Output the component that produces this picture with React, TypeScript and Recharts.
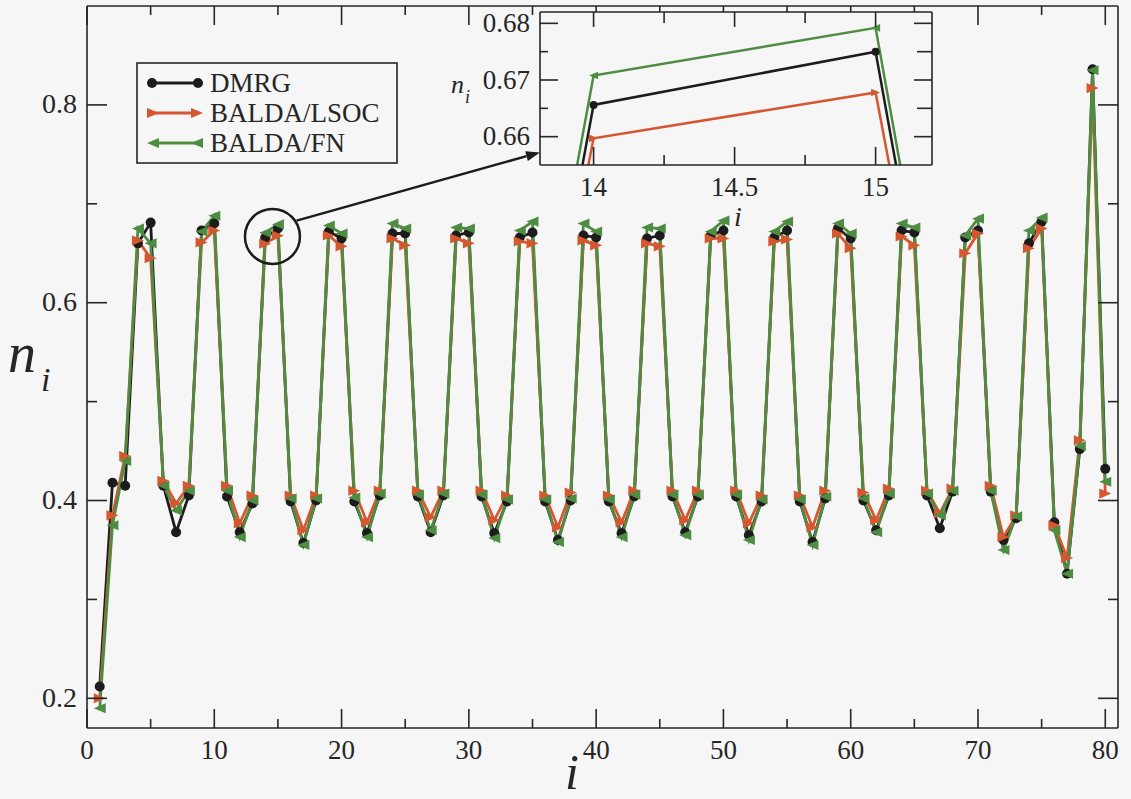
import React from "react";
import {
  LineChart,
  Line,
  XAxis,
  YAxis,
  ReferenceDot,
  ReferenceLine,
  CartesianGrid,
} from "recharts";

// lattice sites
const SITES = [
  1, 2, 3, 4, 5, 6, 7, 8, 9, 10, 11, 12, 13, 14, 15, 16, 17, 18, 19, 20,
  21, 22, 23, 24, 25, 26, 27, 28, 29, 30, 31, 32, 33, 34, 35, 36, 37, 38, 39, 40,
  41, 42, 43, 44, 45, 46, 47, 48, 49, 50, 51, 52, 53, 54, 55, 56, 57, 58, 59, 60,
  61, 62, 63, 64, 65, 66, 67, 68, 69, 70, 71, 72, 73, 74, 75, 76, 77, 78, 79, 80,
];

// site occupations n_i
const DMRG = [
  0.212, 0.418, 0.415, 0.66, 0.681, 0.415, 0.368, 0.405, 0.673, 0.68,
  0.404, 0.368, 0.397, 0.6656, 0.675, 0.399, 0.357, 0.4, 0.672, 0.665,
  0.399, 0.367, 0.405, 0.67, 0.67, 0.404, 0.368, 0.405, 0.668, 0.671,
  0.404, 0.367, 0.399, 0.666, 0.671, 0.399, 0.36, 0.4, 0.668, 0.666,
  0.399, 0.367, 0.404, 0.665, 0.668, 0.404, 0.368, 0.404, 0.668, 0.673,
  0.404, 0.365, 0.399, 0.666, 0.673, 0.399, 0.358, 0.402, 0.675, 0.665,
  0.4, 0.37, 0.405, 0.673, 0.671, 0.405, 0.372, 0.409, 0.666, 0.673,
  0.409, 0.36, 0.382, 0.66, 0.682, 0.378, 0.326, 0.452, 0.836, 0.432,
];

const LSOC = [
  0.2, 0.385, 0.445, 0.663, 0.645, 0.42, 0.397, 0.415, 0.661, 0.673,
  0.415, 0.377, 0.405, 0.6597, 0.6678, 0.405, 0.37, 0.405, 0.668, 0.657,
  0.41, 0.378, 0.41, 0.665, 0.658, 0.41, 0.383, 0.41, 0.665, 0.66,
  0.41, 0.38, 0.405, 0.662, 0.66, 0.405, 0.373, 0.408, 0.663, 0.658,
  0.405, 0.378, 0.41, 0.66, 0.657, 0.41, 0.38, 0.41, 0.665, 0.665,
  0.41, 0.377, 0.405, 0.662, 0.664, 0.405, 0.373, 0.41, 0.67, 0.655,
  0.408, 0.38, 0.412, 0.667, 0.658, 0.41, 0.387, 0.412, 0.65, 0.67,
  0.415, 0.363, 0.385, 0.655, 0.675, 0.375, 0.342, 0.461, 0.817, 0.407,
];

const FN = [
  0.19, 0.375, 0.44, 0.675, 0.66, 0.415, 0.39, 0.41, 0.672, 0.688,
  0.41, 0.363, 0.4, 0.6708, 0.6792, 0.402, 0.355, 0.402, 0.678, 0.67,
  0.403, 0.363, 0.407, 0.68, 0.675, 0.406, 0.37, 0.407, 0.676, 0.675,
  0.406, 0.362, 0.401, 0.673, 0.682, 0.401, 0.358, 0.402, 0.68, 0.672,
  0.401, 0.363, 0.406, 0.676, 0.675, 0.406, 0.365, 0.406, 0.672, 0.683,
  0.406, 0.36, 0.401, 0.672, 0.682, 0.401, 0.355, 0.404, 0.68, 0.67,
  0.402, 0.368, 0.407, 0.68, 0.676, 0.407, 0.385, 0.41, 0.668, 0.685,
  0.41, 0.35, 0.384, 0.673, 0.686, 0.37, 0.326, 0.455, 0.835, 0.419,
];

const SERIES_NAMES = ["DMRG", "BALDA/LSOC", "BALDA/FN"];

const X_TICKS = [0, 5, 10, 15, 20, 25, 30, 35, 40, 45, 50, 55, 60, 65, 70, 75, 80];
const X_LABELS = ["0", "10", "20", "30", "40", "50", "60", "70", "80"];
const Y_TICKS = [0.2, 0.3, 0.4, 0.5, 0.6, 0.7, 0.8];
const Y_LABELS = ["0.2", "0.4", "0.6", "0.8"];

// zoomed window around sites 14-15
const INSET_SITES = [13, 14, 15, 16];
const INSET_X_TICKS = [14, 14.25, 14.5, 14.75, 15];
const INSET_X_LABELS = ["14", "14.5", "15"];
const INSET_Y_TICKS = [0.66, 0.665, 0.67, 0.675, 0.68];
const INSET_Y_LABELS = ["0.66", "0.67", "0.68"];

// magnifier circle and pointer arrow (data coords)
const ZOOM_CENTER = { x: 14.57, y: 0.667 };
const ARROW_FROM = { x: 16.47, y: 0.683 };
const ARROW_TO = { x: 35.59, y: 0.752 };

const BLACK = "#1c1c1c";
const RED = "#d5572f";
const GREEN = "#4e8c42";
const INK = "#262626";
const BG = "#f6f6f7";
const FONT = '"Liberation Serif", "Times New Roman", serif';

const rows = SITES.map((s, k) => ({ i: s, dmrg: DMRG[k], lsoc: LSOC[k], fn: FN[k] }));
const insetRows = INSET_SITES.map((s) => {
  const k = SITES.indexOf(s);
  return { i: s, dmrg: DMRG[k], lsoc: LSOC[k], fn: FN[k] };
});

type Side = "bottom" | "top" | "left" | "right";

// inward ticks, long+labelled for major values, short for minor ones
const makeTick =
  (side: Side, labels: string[], major: number, minor: number, fontSize: number, showText: boolean) =>
  (props: any) => {
    const { x, y, payload } = props;
    const v = payload.value as number;
    const label = labels.find((l) => Math.abs(parseFloat(l) - v) < 1e-9);
    const len = label ? major : minor;
    let line;
    if (side === "bottom") line = <line x1={x} y1={y} x2={x} y2={y - len} />;
    else if (side === "top") line = <line x1={x} y1={y} x2={x} y2={y + len} />;
    else if (side === "left") line = <line x1={x} y1={y} x2={x + len} y2={y} />;
    else line = <line x1={x} y1={y} x2={x - len} y2={y} />;
    let text = null;
    if (showText && label) {
      const tx = side === "bottom" ? x : x - 10;
      const ty = side === "bottom" ? y + 31 : y + 8.5;
      text = (
        <text
          x={tx}
          y={ty}
          textAnchor={side === "bottom" ? "middle" : "end"}
          fontFamily="Liberation Serif"
          fontSize={fontSize}
          fill={INK}
          stroke="none"
          style={{ fontFamily: FONT }}
        >
          {label}
        </text>
      );
    }
    return (
      <g>
        <g stroke={INK} strokeWidth={1.6}>
          {line}
        </g>
        {text}
      </g>
    );
  };

const circleDot = (r: number, color: string) => (p: any) =>
  <circle key={`c-${p.index}`} cx={p.cx} cy={p.cy} r={r} fill={color} />;

const triPoints = (cx: number, cy: number, size: number, dir: number) => {
  const h = size / 2;
  const w = size * 0.42;
  return `${cx + dir * h},${cy} ${cx - dir * h},${cy - w} ${cx - dir * h},${cy + w}`;
};

const triDot = (size: number, color: string, dir: number) => (p: any) =>
  <polygon key={`t-${p.index}`} points={triPoints(p.cx, p.cy, size, dir)} fill={color} />;

const Arrow = (props: any) => {
  const { x1, y1, x2, y2 } = props;
  const a = Math.atan2(y2 - y1, x2 - x1);
  const len = 14;
  const hw = 5;
  const bx = x2 - len * Math.cos(a);
  const by = y2 - len * Math.sin(a);
  const px = -Math.sin(a) * hw;
  const py = Math.cos(a) * hw;
  return (
    <g>
      <line x1={x1} y1={y1} x2={bx} y2={by} stroke={BLACK} strokeWidth={2.5} />
      <polygon points={`${x2},${y2} ${bx + px},${by + py} ${bx - px},${by - py}`} fill={BLACK} />
    </g>
  );
};

const axisLine = { stroke: INK, strokeWidth: 1.6 };

const LegendBox = () => {
  const rowsY = [83, 113, 143];
  const colors = [BLACK, RED, GREEN];
  return (
    <g style={{ fontFamily: FONT }}>
      <rect x={137} y={63} width={260} height={100} fill={BG} stroke={INK} strokeWidth={1.6} />
      {SERIES_NAMES.map((name, k) => {
        const y = rowsY[k];
        const c = colors[k];
        return (
          <g key={name}>
            <line x1={152} y1={y} x2={198} y2={y} stroke={c} strokeWidth={2.8} />
            {k === 0 && (
              <>
                <circle cx={152} cy={y} r={5} fill={c} />
                <circle cx={198} cy={y} r={5} fill={c} />
              </>
            )}
            {k === 1 && (
              <>
                <polygon points={triPoints(153, y, 12, 1)} fill={c} />
                <polygon points={triPoints(197, y, 12, 1)} fill={c} />
              </>
            )}
            {k === 2 && (
              <>
                <polygon points={triPoints(153, y, 12, -1)} fill={c} />
                <polygon points={triPoints(197, y, 12, -1)} fill={c} />
              </>
            )}
            <text x={210} y={y + 9} style={{ fontFamily: FONT, fontSize: 27, fill: INK }}>
              {name}
            </text>
          </g>
        );
      })}
    </g>
  );
};

const MainChart = () => (
  <LineChart
    width={1131}
    height={799}
    data={rows}
    margin={{ top: 0, right: 0, bottom: 0, left: 0 }}
    style={{ fontFamily: FONT }}
  >
    <XAxis
      xAxisId="b"
      dataKey="i"
      type="number"
      domain={[0, 81]}
      allowDataOverflow
      ticks={X_TICKS}
      interval={0}
      tickSize={0}
      tickMargin={0}
      height={71}
      axisLine={axisLine}
      tick={makeTick("bottom", X_LABELS, 19, 9, 27, true)}
    />
    <XAxis
      xAxisId="t"
      orientation="top"
      dataKey="i"
      type="number"
      domain={[0, 81]}
      allowDataOverflow
      ticks={X_TICKS}
      interval={0}
      tickSize={0}
      tickMargin={0}
      height={6}
      axisLine={axisLine}
      tick={makeTick("top", X_LABELS, 19, 9, 27, false)}
    />
    <YAxis
      yAxisId="l"
      type="number"
      domain={[0.17, 0.9]}
      allowDataOverflow
      ticks={Y_TICKS}
      interval={0}
      tickSize={0}
      tickMargin={0}
      width={87}
      axisLine={axisLine}
      tick={makeTick("left", Y_LABELS, 20, 10, 28, true)}
    />
    <YAxis
      yAxisId="r"
      orientation="right"
      type="number"
      domain={[0.17, 0.9]}
      allowDataOverflow
      ticks={Y_TICKS}
      interval={0}
      tickSize={0}
      tickMargin={0}
      width={13}
      axisLine={axisLine}
      tick={makeTick("right", Y_LABELS, 20, 10, 28, false)}
    />
    <Line
      xAxisId="b"
      yAxisId="l"
      dataKey="dmrg"
      type="linear"
      stroke={BLACK}
      strokeWidth={2.8}
      dot={circleDot(5, BLACK)}
      activeDot={false}
      isAnimationActive={false}
    />
    <Line
      xAxisId="b"
      yAxisId="l"
      dataKey="lsoc"
      type="linear"
      stroke={RED}
      strokeWidth={2.8}
      dot={triDot(12, RED, 1)}
      activeDot={false}
      isAnimationActive={false}
    />
    <Line
      xAxisId="b"
      yAxisId="l"
      dataKey="fn"
      type="linear"
      stroke={GREEN}
      strokeWidth={2.8}
      dot={triDot(12, GREEN, -1)}
      activeDot={false}
      isAnimationActive={false}
    />
    <ReferenceDot
      xAxisId="b"
      yAxisId="l"
      x={ZOOM_CENTER.x}
      y={ZOOM_CENTER.y}
      r={27.5}
      fill="none"
      stroke={BLACK}
      strokeWidth={2.5}
    />
    <ReferenceLine
      xAxisId="b"
      yAxisId="l"
      segment={[ARROW_FROM, ARROW_TO]}
      shape={Arrow}
    />
  </LineChart>
);

const InsetChart = () => (
  <LineChart
    width={500}
    height={230}
    data={insetRows}
    margin={{ top: 0, right: 0, bottom: 0, left: 0 }}
    style={{ fontFamily: FONT }}
  >
    <CartesianGrid xAxisId="b" yAxisId="l" horizontal={false} vertical={false} fill={BG} />
    <XAxis
      xAxisId="b"
      dataKey="i"
      type="number"
      domain={[13.81, 15.2]}
      allowDataOverflow
      ticks={INSET_X_TICKS}
      interval={0}
      tickSize={0}
      tickMargin={0}
      height={65}
      axisLine={axisLine}
      tick={makeTick("bottom", INSET_X_LABELS, 18, 10, 27, true)}
    />
    <XAxis
      xAxisId="t"
      orientation="top"
      dataKey="i"
      type="number"
      domain={[13.81, 15.2]}
      allowDataOverflow
      ticks={INSET_X_TICKS}
      interval={0}
      tickSize={0}
      tickMargin={0}
      height={12}
      axisLine={axisLine}
      tick={makeTick("top", INSET_X_LABELS, 15, 11, 27, false)}
    />
    <YAxis
      yAxisId="l"
      type="number"
      domain={[0.655, 0.682]}
      allowDataOverflow
      ticks={INSET_Y_TICKS}
      interval={0}
      tickSize={0}
      tickMargin={0}
      width={100}
      axisLine={axisLine}
      tick={makeTick("left", INSET_Y_LABELS, 18, 8, 27, true)}
    />
    <YAxis
      yAxisId="r"
      orientation="right"
      type="number"
      domain={[0.655, 0.682]}
      allowDataOverflow
      ticks={INSET_Y_TICKS}
      interval={0}
      tickSize={0}
      tickMargin={0}
      width={8}
      axisLine={axisLine}
      tick={makeTick("right", INSET_Y_LABELS, 18, 15, 27, false)}
    />
    <Line
      xAxisId="b"
      yAxisId="l"
      dataKey="dmrg"
      type="linear"
      stroke={BLACK}
      strokeWidth={2.5}
      dot={circleDot(4, BLACK)}
      activeDot={false}
      isAnimationActive={false}
    />
    <Line
      xAxisId="b"
      yAxisId="l"
      dataKey="lsoc"
      type="linear"
      stroke={RED}
      strokeWidth={2.5}
      dot={triDot(9, RED, 1)}
      activeDot={false}
      isAnimationActive={false}
    />
    <Line
      xAxisId="b"
      yAxisId="l"
      dataKey="fn"
      type="linear"
      stroke={GREEN}
      strokeWidth={2.5}
      dot={triDot(9, GREEN, -1)}
      activeDot={false}
      isAnimationActive={false}
    />
  </LineChart>
);

export default function App() {
  const italic = { fontFamily: FONT, fontStyle: "italic", fill: INK };
  return (
    <div
      style={{
        position: "absolute",
        left: 0,
        top: 0,
        width: 1131,
        height: 799,
        background: BG,
        overflow: "hidden",
        fontFamily: FONT,
      }}
    >
      <div style={{ position: "absolute", left: 0, top: 0 }}>
        <MainChart />
      </div>
      <svg
        width={1131}
        height={799}
        style={{ position: "absolute", left: 0, top: 0, pointerEvents: "none" }}
      >
        <LegendBox />
        <text x={8} y={372} style={{ ...italic, fontSize: 56 }}>n</text>
        <text x={41} y={391} style={{ ...italic, fontSize: 34 }}>i</text>
        <text x={572} y={789} textAnchor="middle" style={{ ...italic, fontSize: 50 }}>i</text>
        <text x={451} y={93} style={{ ...italic, fontSize: 26 }}>n</text>
        <text x={465} y={103} style={{ ...italic, fontSize: 18 }}>i</text>
        <text x={738} y={226} textAnchor="middle" style={{ ...italic, fontSize: 28 }}>i</text>
      </svg>
      <div style={{ position: "absolute", left: 440, top: 0 }}>
        <InsetChart />
      </div>
    </div>
  );
}
